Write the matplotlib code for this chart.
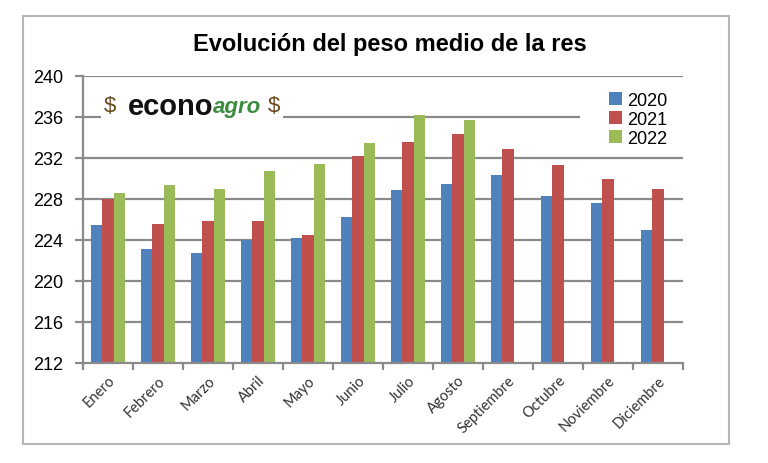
import numpy as np
import matplotlib
matplotlib.use("Agg")
import matplotlib.pyplot as plt
import matplotlib.patches as mpatches

# ─────────────────────────────────────────
# DATA
# ─────────────────────────────────────────
meses = ["Enero", "Febrero", "Marzo", "Abril", "Mayo", "Junio", "Julio",
         "Agosto", "Septiembre", "Octubre", "Noviembre", "Diciembre"]
peso_2020 = [225.5, 223.1, 222.7, 224.0, 224.2, 226.2, 228.9, 229.5, 230.3, 228.3, 227.6, 225.0]
peso_2021 = [228.0, 225.6, 225.9, 225.9, 224.5, 232.2, 233.6, 234.3, 232.9, 231.3, 230.0, 229.0]
peso_2022 = [228.6, 229.4, 229.0, 230.7, 231.4, 233.5, 236.2, 235.7]
anios = ["2020", "2021", "2022"]
y_ticks = [212, 216, 220, 224, 228, 232, 236, 240]

COLORS = ["#4F81BD", "#C0504D", "#9BBB59"]
GRID = "#8a8a8a"

plt.rcParams["font.family"] = ["Liberation Sans", "DejaVu Sans"]

fig = plt.figure(figsize=(7.68, 4.64), dpi=100)
ax = fig.add_axes([83 / 768, 1 - 364 / 464, 600 / 768, 287 / 464])

# Bars
w = 1 / 4.5
series = [peso_2020, peso_2021, peso_2022]
for i, (vals, lab, col) in enumerate(zip(series, anios, COLORS)):
    x = np.arange(len(vals)) + (i - 1) * w
    ax.bar(x, np.array(vals) - 212, width=w, bottom=212, color=col,
           label=lab, zorder=2)

ax.set_xlim(-0.5, len(meses) - 0.5)
ax.set_ylim(212, 240)

# Grid + axes style
ax.set_yticks(y_ticks)
ax.set_yticklabels([str(t) for t in y_ticks], fontsize=13)
for t in y_ticks[1:]:
    ax.axhline(t, color=GRID, linewidth=1.6, zorder=0.5)
for s in ["top", "right"]:
    ax.spines[s].set_visible(False)
for s in ["left", "bottom"]:
    ax.spines[s].set_color(GRID)
    ax.spines[s].set_linewidth(1.6)
ax.tick_params(axis="y", length=6, width=1.6, color=GRID, pad=8)

ax.set_xticks(np.arange(len(meses)))
ax.set_xticklabels(meses, rotation=45, ha="right", va="top",
                   rotation_mode="anchor", fontsize=10.5, color="#333333",
                   family=["Lato", "DejaVu Sans"])
ax.tick_params(axis="x", length=0, pad=7)
ax.set_xticks(np.arange(len(meses) + 1) - 0.5, minor=True)
ax.tick_params(axis="x", which="minor", length=5, width=1.6, color=GRID)

# White box behind the legend (hides 236 gridline there)
ax.add_patch(mpatches.Rectangle((580 / 768, 1 - 150 / 464), 105 / 768, 68 / 464,
                                transform=fig.transFigure, facecolor="white",
                                edgecolor="none", zorder=1))
leg = ax.legend(loc="upper left", bbox_to_anchor=(600 / 768, 1 - 84 / 464),
                bbox_transform=fig.transFigure, frameon=False, fontsize=13,
                handlelength=0.7, handleheight=0.7, handletextpad=0.3,
                labelspacing=0.1, borderpad=0)

# Logo
fig.patches.append(mpatches.Rectangle((101 / 768, 1 - 124 / 464), 182 / 768, 34 / 464,
                                      transform=fig.transFigure, facecolor="white",
                                      edgecolor="none", zorder=3))
ty = 1 - 107 / 464
fig.text(104 / 768, ty, "$", fontsize=16, color="#6b4a22", va="center", zorder=4)
fig.text(213 / 768, ty, "econo", fontsize=21, fontweight="bold", color="#111111",
         ha="right", va="center", zorder=4)
fig.text(213 / 768, ty, "agro", fontsize=16, fontweight="bold", style="italic",
         color="#3b8b3e", ha="left", va="center", zorder=4)
fig.text(268 / 768, ty, "$", fontsize=16, color="#6b4a22", va="center", zorder=4)

# Title
fig.text(390 / 768, 1 - 45 / 464, "Evolución del peso medio de la res",
         fontsize=17, fontweight="bold", ha="center", va="center")

# Outer frame
fig.patches.append(mpatches.Rectangle((23 / 768, 1 - 445 / 464), 706 / 768, 428 / 464,
                                      transform=fig.transFigure, fill=False,
                                      edgecolor="#b5b5b5", linewidth=1.5, zorder=5))

fig.savefig("out.png", dpi=100)
